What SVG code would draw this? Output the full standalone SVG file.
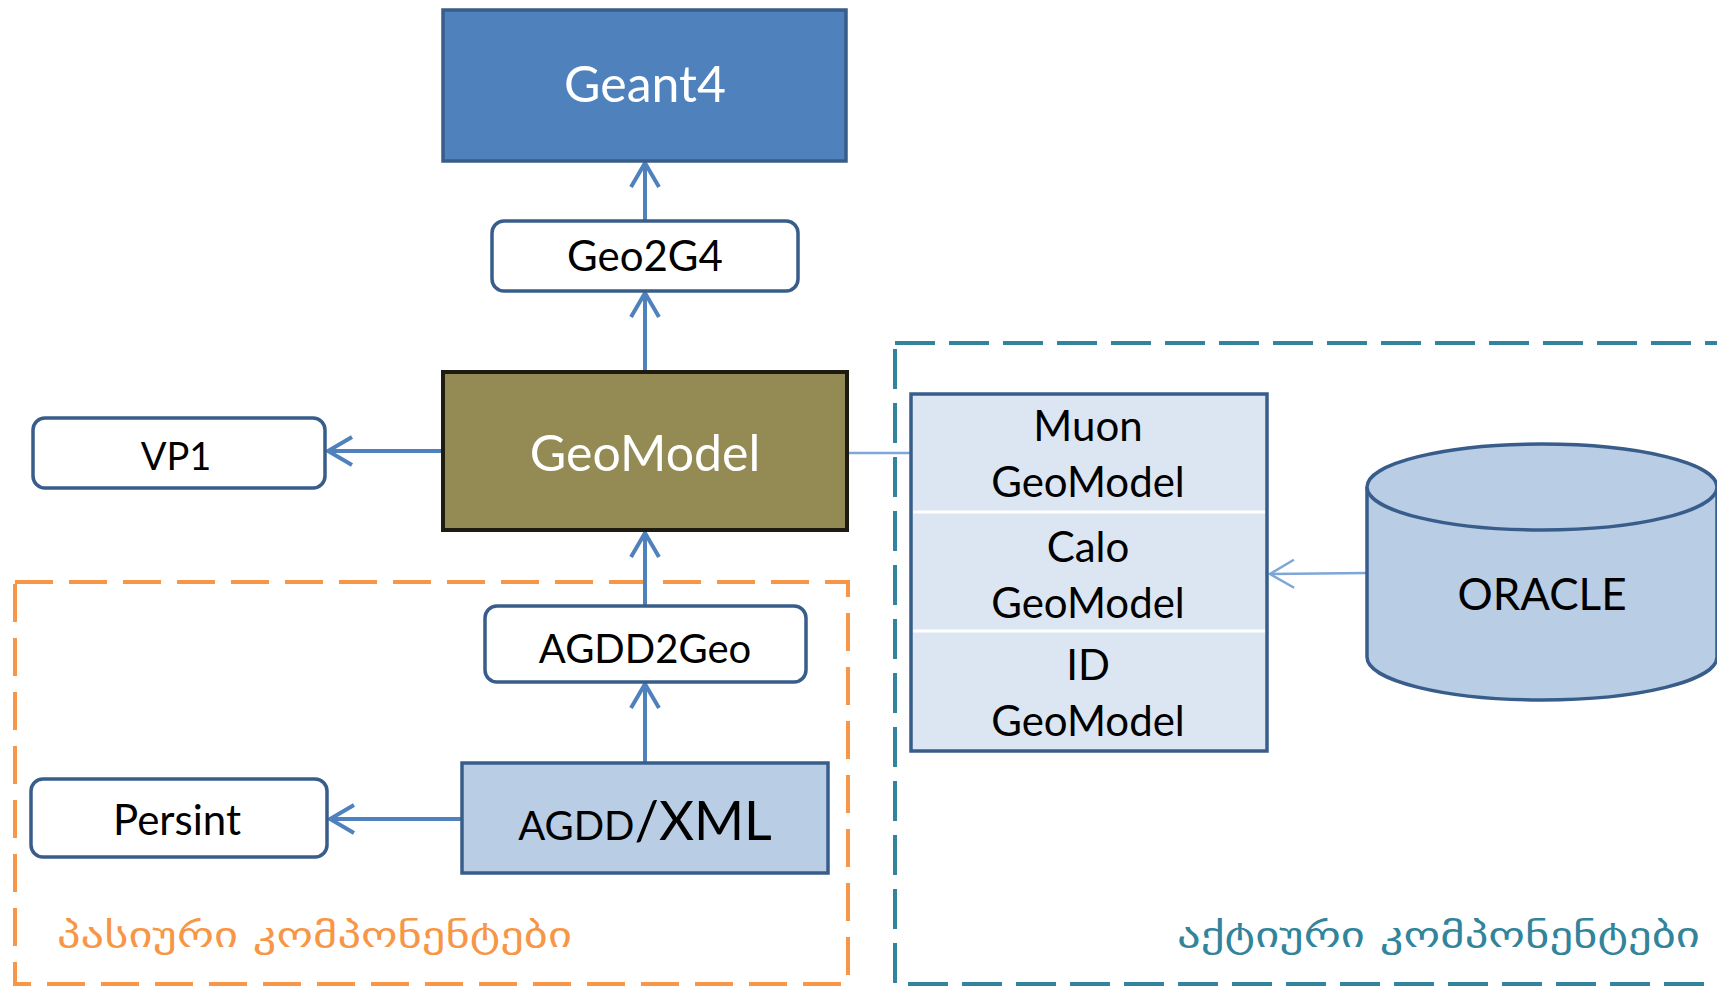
<svg xmlns="http://www.w3.org/2000/svg" width="1717" height="986" viewBox="0 0 1717 986">
<defs>
<style>
.t{font-family:Lato,"Liberation Sans",sans-serif;text-anchor:middle;fill:#000}
.w{fill:#fff}
.rbox{fill:#fff;stroke:#385D8A;stroke-width:3.5}
.con{stroke:#4F81BD;stroke-width:4;fill:none}
.thin{stroke:#7EA6D8;stroke-width:2.5;fill:none}
.geo{font-family:"DejaVu Sans",sans-serif;font-size:34px}
</style>
<marker id="arr" viewBox="0 0 30 32" refX="27" refY="16" markerWidth="30" markerHeight="32" markerUnits="userSpaceOnUse" orient="auto">
<path d="M3,2 L27,16 L3,30" fill="none" stroke="#4F81BD" stroke-width="4"/>
</marker>
<marker id="arrt" viewBox="0 0 30 32" refX="27" refY="16" markerWidth="30" markerHeight="32" markerUnits="userSpaceOnUse" orient="auto">
<path d="M3,2 L27,16 L3,30" fill="none" stroke="#7EA6D8" stroke-width="2.5"/>
</marker>
</defs>
<rect width="1717" height="986" fill="#fff"/>

<g id="passive-group">
<rect x="15" y="582" width="833" height="402" fill="none" stroke="#F79646" stroke-width="4" stroke-dasharray="38 16"/>
<text class="geo" x="57" y="947" fill="#F79646" textLength="515" lengthAdjust="spacingAndGlyphs">პასიური  კომპონენტები</text>
</g>
<g id="active-group">
<rect x="895" y="343" width="840" height="641" fill="none" stroke="#31849B" stroke-width="4" stroke-dasharray="40 14"/>
<text class="geo" x="1177" y="947" fill="#31849B" textLength="523" lengthAdjust="spacingAndGlyphs">აქტიური  კომპონენტები</text>
</g>

<g id="connectors">
<line class="con" x1="645" y1="221" x2="645" y2="163" marker-end="url(#arr)"/>
<line class="con" x1="645" y1="371" x2="645" y2="293" marker-end="url(#arr)"/>
<line class="con" x1="645" y1="606" x2="645" y2="533" marker-end="url(#arr)"/>
<line class="con" x1="645" y1="763" x2="645" y2="684" marker-end="url(#arr)"/>
<line class="con" x1="442" y1="451" x2="328" y2="451" marker-end="url(#arr)"/>
<line class="con" x1="462" y1="819" x2="330" y2="819" marker-end="url(#arr)"/>
<line class="thin" x1="849" y1="453" x2="911" y2="453"/>
<line class="thin" x1="1367" y1="573" x2="1270" y2="574" marker-end="url(#arrt)"/>
</g>

<g id="geant4">
<rect x="443" y="10" width="403" height="151" fill="#4F81BD" stroke="#385D8A" stroke-width="3.5"/>
<text class="t w" x="645" y="102" font-size="50">Geant4</text>
</g>
<g id="geo2g4">
<rect class="rbox" x="492" y="221" width="306" height="70" rx="12"/>
<text class="t" x="645" y="271" font-size="42">Geo2G4</text>
</g>
<g id="geomodel">
<rect x="443" y="372" width="404" height="158" fill="#948A54" stroke="#1E1B10" stroke-width="4"/>
<text class="t w" x="645" y="471" font-size="50">GeoModel</text>
</g>
<g id="vp1">
<rect class="rbox" x="33" y="418" width="292" height="70" rx="12"/>
<text class="t" x="176" y="470" font-size="38">VP1</text>
</g>
<g id="agdd2geo">
<rect class="rbox" x="485" y="606" width="321" height="76" rx="12"/>
<text class="t" x="645" y="663" font-size="40">AGDD2Geo</text>
</g>
<g id="agddxml">
<rect x="462" y="763" width="366" height="110" fill="#B9CDE5" stroke="#385D8A" stroke-width="3.5"/>
<text class="t" x="645" y="840"><tspan font-size="40">AGDD</tspan><tspan font-size="54">/XML</tspan></text>
</g>
<g id="persint">
<rect class="rbox" x="31" y="779" width="296" height="78" rx="12"/>
<text class="t" x="177" y="835" font-size="42">Persint</text>
</g>
<g id="geomodel-stack">
<rect x="911" y="394" width="356" height="357" fill="#DCE6F2" stroke="#385D8A" stroke-width="3.5"/>
<line x1="913" y1="512" x2="1265" y2="512" stroke="#fff" stroke-width="3"/>
<line x1="913" y1="631" x2="1265" y2="631" stroke="#fff" stroke-width="3"/>
<text class="t" x="1088" y="441" font-size="42">Muon</text>
<text class="t" x="1088" y="497" font-size="42">GeoModel</text>
<text class="t" x="1088" y="562" font-size="42">Calo</text>
<text class="t" x="1088" y="618" font-size="42">GeoModel</text>
<text class="t" x="1088" y="680" font-size="42">ID</text>
<text class="t" x="1088" y="736" font-size="42">GeoModel</text>
</g>
<g id="oracle">
<path d="M1367,487 L1367,657 A175,43 0 0 0 1717,657 L1717,487" fill="#B9CDE5" stroke="#385D8A" stroke-width="3.5"/>
<ellipse cx="1542" cy="487" rx="175" ry="43" fill="#B9CDE5" stroke="#385D8A" stroke-width="3.5"/>
<text class="t" x="1542" y="610" font-size="44">ORACLE</text>
</g>
</svg>
